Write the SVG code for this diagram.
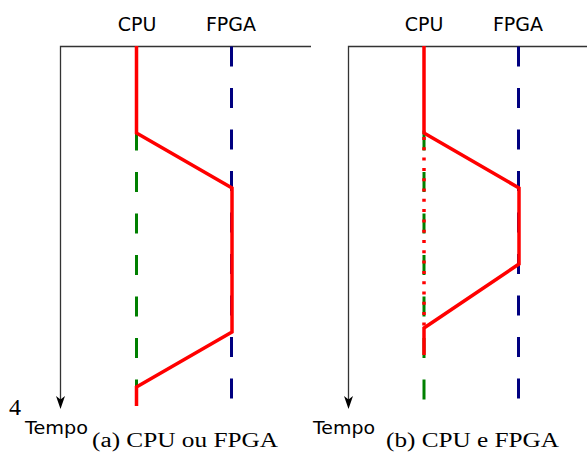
<svg xmlns="http://www.w3.org/2000/svg" width="587" height="452" viewBox="0 0 587 452">
<defs>
<style>
.frame{fill:none;stroke:#333;stroke-width:1.3}
.red{fill:none;stroke:#ff0000;stroke-width:3.5;stroke-linejoin:miter}
.blue{stroke:#000080;stroke-width:3;stroke-dasharray:20 21.5}
.green{stroke:#008000;stroke-width:3;stroke-dasharray:20 21.5}
.reddot{stroke:#ff0000;stroke-width:3.5;stroke-dasharray:3 7.3}
.lab{font-family:"DejaVu Sans",sans-serif;font-size:19px;fill:#000}
.tempo{font-family:"DejaVu Sans",sans-serif;font-size:18.5px;fill:#000}
.cap{font-family:"Liberation Serif",serif;font-size:20px;fill:#000}
</style>
</defs>
<g id="panel-a">
<g id="axes-a">
<path class="frame" d="M311,46.5 H60.5 V404"/>
<path d="M60.5,409 L56,396 L60.5,399.5 L65,396 Z" fill="#000"/>
</g>
<g id="label-cpu-a"><text class="lab" x="137" y="31" text-anchor="middle">CPU</text></g>
<g id="label-fpga-a"><text class="lab" x="231" y="31" text-anchor="middle">FPGA</text></g>
<g id="tempo-a"><text class="tempo" x="25" y="434" textLength="63" lengthAdjust="spacingAndGlyphs">Tempo</text></g>
<g id="caption-a"><text class="cap" x="92" y="447" textLength="186" lengthAdjust="spacingAndGlyphs">(a) CPU ou FPGA</text></g>
<g id="num"><text class="cap" x="9" y="415" style="font-size:24px">4</text></g>
</g>
<g id="panel-b">
<g id="axes-b">
<path class="frame" d="M587,46.5 H348.5 V404"/>
<path d="M348.5,409 L344,396 L348.5,399.5 L353,396 Z" fill="#000"/>
</g>
<g id="label-cpu-b"><text class="lab" x="424" y="31" text-anchor="middle">CPU</text></g>
<g id="label-fpga-b"><text class="lab" x="518" y="31" text-anchor="middle">FPGA</text></g>
<g id="tempo-b"><text class="tempo" x="313" y="434" textLength="62" lengthAdjust="spacingAndGlyphs">Tempo</text></g>
<g id="caption-b"><text class="cap" x="386" y="447" textLength="173" lengthAdjust="spacingAndGlyphs">(b) CPU e FPGA</text></g>
</g>
<g id="connectors">
<line class="blue" x1="231.5" y1="46.5" x2="231.5" y2="400"/>
<line class="green" x1="136.5" y1="130.5" x2="136.5" y2="400"/>
<path class="red" d="M136.5,46 V133 L232,188 V332 L136.5,387 V406"/>
<line class="blue" x1="518.5" y1="46.5" x2="518.5" y2="400"/>
<line class="green" x1="424" y1="130.5" x2="424" y2="400"/>
<line class="reddot" x1="424" y1="137" x2="424" y2="328"/>
<path class="red" d="M424,46 V133 L519,188 V264 L424,328 V355"/>
</g>
</svg>
